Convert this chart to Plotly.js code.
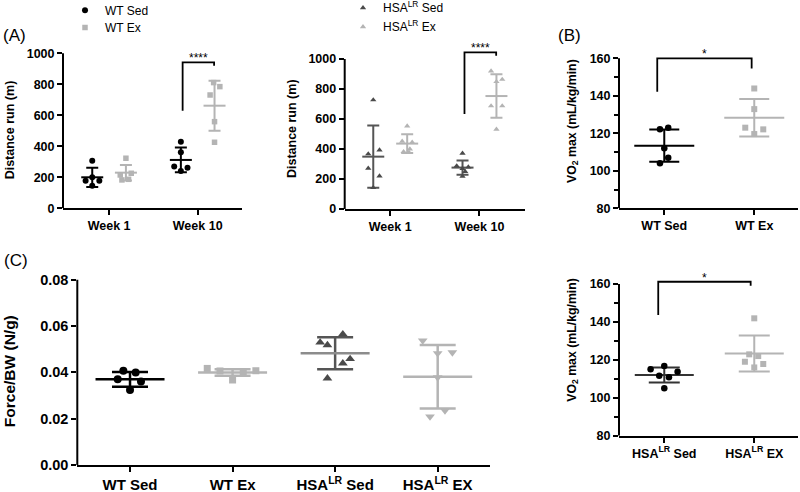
<!DOCTYPE html>
<html><head><meta charset="utf-8">
<script src="https://cdn.plot.ly/plotly-3.0.1.min.js"></script>
<style>html,body{margin:0;padding:0;background:#fff}#chart{width:800px;height:492px}</style>
</head><body><div id="chart"></div>
<script>
// ---------------- data ----------------
const WEEKS = ['Week 1', 'Week 10'];
const WT_NAMES = ['WT Sed', 'WT Ex'];
const HSA_NAMES = ['HSA<sup>LR</sup> Sed', 'HSA<sup>LR</sup> Ex'];
const FORCE_GROUPS = ['WT Sed', 'WT Ex', 'HSA<sup>LR</sup> Sed', 'HSA<sup>LR</sup> EX'];
const VO2_WT_GROUPS = ['WT Sed', 'WT Ex'];
const VO2_HSA_GROUPS = ['HSA<sup>LR</sup> Sed', 'HSA<sup>LR</sup> EX'];

// (A) left: distance run (m), WT mice, [week 1, week 10]
const DIST_WT_SED = [[307, 178, 178, 145, 200], [430, 361, 269, 262, 241]];
const DIST_WT_EX  = [[323, 226, 215, 187, 183], [811, 785, 731, 559, 426]];
const DIST_WT_SED_MEAN = [200, 312], DIST_WT_SED_SD = [62, 80];
const DIST_WT_EX_MEAN  = [230, 662], DIST_WT_EX_SD  = [50, 161];
const SIG_DIST_WT = [630, 942, 920];      // left leg end, bracket top, right leg end
// (A) right: distance run (m), HSA-LR mice
const DIST_HSA_SED = [[727, 367, 393, 271, 220, 142], [371, 287, 280, 270, 250, 218]];
const DIST_HSA_EX  = [[553, 451, 445, 400, 382, 378], [920, 864, 849, 687, 687, 531]];
const DIST_HSA_SED_MEAN = [349, 276], DIST_HSA_SED_SD = [207, 48];
const DIST_HSA_EX_MEAN  = [436, 753], DIST_HSA_EX_SD  = [62, 145];
const SIG_DIST_HSA = [633, 1044, 1022];
// (B) VO2 max, WT
const VO2_WT_SED = [122.1, 123.0, 112.0, 107.0, 104.0];
const VO2_WT_EX  = [143.9, 132.9, 123.0, 122.1, 119.6];
const VO2_WT_MEAN = [113.4, 128.3], VO2_WT_SD = [8.6, 10.0];
const SIG_VO2_WT = [142.2, 160.0, 154.6];
// (B) lower: VO2 max, HSA-LR
const VO2_HSA_SED = [116.7, 115.0, 113.7, 111.6, 110.8, 105.0];
const VO2_HSA_EX  = [141.9, 122.9, 122.0, 119.0, 117.8, 116.0];
const VO2_HSA_MEAN = [112.0, 123.4], VO2_HSA_SD = [4.0, 9.5];
const SIG_VO2_HSA = [143.6, 161.2, 159.1];
// (C) force / body weight (N/g)
const FORCE_WT_SED  = [0.0407, 0.0399, 0.0370, 0.0360, 0.0324];
const FORCE_WT_EX   = [0.0417, 0.0406, 0.0403, 0.0407, 0.0367];
const FORCE_HSA_SED = [0.0565, 0.0529, 0.0518, 0.0458, 0.0439, 0.0374];
const FORCE_HSA_EX  = [0.0537, 0.0482, 0.0486, 0.0378, 0.0235, 0.0209];
const FORCE_MEAN = [0.0370, 0.0399, 0.0482, 0.0381];
const FORCE_SD   = [0.0032, 0.0014, 0.0069, 0.0137];

// ---------------- horizontal scatter offsets (layout only) ----------------
const JIT_DIST_WT_SED = [[0, -0.075, 0.08, 0, 0], [0, 0, -0.075, 0.075, 0]];
const JIT_DIST_WT_EX  = [[0, 0.06, -0.064, 0.03, -0.045], [-0.01, 0.06, -0.05, 0, 0]];
const JIT_DIST_HSA_SED = [[0, -0.056, 0.07, -0.056, 0.07, 0], [0, -0.065, 0.065, 0, 0.03, 0]];
const JIT_DIST_HSA_EX  = [[0, -0.056, 0.056, 0.03, -0.04, 0.02], [-0.06, 0.065, 0, -0.06, 0.065, 0]];
const JIT_VO2_WT_SED = [-0.048, 0.044, 0, 0.044, -0.048];
const JIT_VO2_WT_EX  = [0, 0, -0.1, 0.1, 0];
const JIT_VO2_HSA_SED = [0, -0.152, 0.148, -0.056, 0.052, 0];
const JIT_VO2_HSA_EX  = [0, -0.056, 0.044, -0.104, 0.1, 0];
const JIT_F_WT_SED = [-0.065, 0.055, -0.12, 0.107, 0];
const JIT_F_WT_EX  = [-0.247, -0.123, 0.104, 0.227, 0];
const JIT_F_HSA_SED = [0.075, -0.146, -0.075, 0.146, 0.075, -0.075];
const JIT_F_HSA_EX  = [-0.146, 0, 0.143, 0, 0.071, -0.075];

// ---------------- styling ----------------
const W = 800, H = 492;
const FONT = 'Liberation Sans, Arial, Helvetica, sans-serif';
const BLACK = '#000000', LIGHT = '#b4b4b4', DARK = '#4a4a4a', DARKBAR = '#555555';
const GROUP_OFF = 0.19;

function pxX(a, b) { return [a / W, b / W]; }
function pxY(bottomPx, tickPx, rmin, rtick, rmax) {
  const topPx = bottomPx - (rmax - rmin) / (rtick - rmin) * (bottomPx - tickPx);
  return [1 - bottomPx / H, 1 - topPx / H];
}

function pointTrace(xa, ya, xs, ys, symbol, color, size, name, legend, showlegend) {
  return {type: 'scatter', mode: 'markers', xaxis: xa, yaxis: ya, x: xs, y: ys, name: name,
    legend: legend || 'legend', showlegend: !!showlegend, hoverinfo: 'y', cliponaxis: false,
    marker: {symbol: symbol, color: color, size: size, line: {width: 0}}};
}
function meanTrace(xa, ya, xs, means, sds, barColor, meanColor, meanLen, capHalf, lw) {
  return {type: 'scatter', mode: 'markers', xaxis: xa, yaxis: ya, x: xs, y: means,
    showlegend: false, hoverinfo: 'skip', cliponaxis: false,
    marker: {symbol: 'line-ew', size: meanLen / 1.4, color: meanColor, line: {color: meanColor, width: lw}},
    error_y: {type: 'data', array: sds, visible: true, color: barColor, thickness: lw, width: capHalf}};
}
function weekPoints(data, jit, off) {
  const xs = [], ys = [];
  data.forEach((arr, w) => arr.forEach((v, i) => { xs.push(w + 1 + off + jit[w][i]); ys.push(v); }));
  return [xs, ys];
}
function catPoints(data, jit, idx) {
  return [data.map((v, i) => idx + jit[i]), data];
}

const traces = [];
// ---- A left ----
traces.push(meanTrace('x', 'y', [1 - GROUP_OFF, 2 - GROUP_OFF], DIST_WT_SED_MEAN, DIST_WT_SED_SD, BLACK, BLACK, 22, 6, 2));
traces.push(meanTrace('x', 'y', [1 + GROUP_OFF, 2 + GROUP_OFF], DIST_WT_EX_MEAN, DIST_WT_EX_SD, LIGHT, LIGHT, 22, 6, 2));
let p = weekPoints(DIST_WT_SED, JIT_DIST_WT_SED, -GROUP_OFF);
traces.push(pointTrace('x', 'y', p[0], p[1], 'circle', BLACK, 6, WT_NAMES[0], 'legend', true));
p = weekPoints(DIST_WT_EX, JIT_DIST_WT_EX, GROUP_OFF);
traces.push(pointTrace('x', 'y', p[0], p[1], 'square', LIGHT, 5.5, WT_NAMES[1], 'legend3', true));
// ---- A right ----
traces.push(meanTrace('x2', 'y2', [1 - GROUP_OFF, 2 - GROUP_OFF], DIST_HSA_SED_MEAN, DIST_HSA_SED_SD, DARKBAR, DARKBAR, 22, 6, 2));
traces.push(meanTrace('x2', 'y2', [1 + GROUP_OFF, 2 + GROUP_OFF], DIST_HSA_EX_MEAN, DIST_HSA_EX_SD, LIGHT, LIGHT, 22, 6, 2));
p = weekPoints(DIST_HSA_SED, JIT_DIST_HSA_SED, -GROUP_OFF);
traces.push(pointTrace('x2', 'y2', p[0], p[1], 'triangle-up', DARK, 5.5, HSA_NAMES[0], 'legend2', true));
p = weekPoints(DIST_HSA_EX, JIT_DIST_HSA_EX, GROUP_OFF);
traces.push(pointTrace('x2', 'y2', p[0], p[1], 'triangle-up', LIGHT, 5.5, HSA_NAMES[1], 'legend4', true));
// ---- B ----
traces.push(meanTrace('x3', 'y3', [0], [VO2_WT_MEAN[0]], [VO2_WT_SD[0]], BLACK, BLACK, 60, 15, 2));
traces.push(meanTrace('x3', 'y3', [1], [VO2_WT_MEAN[1]], [VO2_WT_SD[1]], LIGHT, LIGHT, 60, 15, 2));
p = catPoints(VO2_WT_SED, JIT_VO2_WT_SED, 0);
traces.push(pointTrace('x3', 'y3', p[0], p[1], 'circle', BLACK, 6.5, VO2_WT_GROUPS[0]));
p = catPoints(VO2_WT_EX, JIT_VO2_WT_EX, 1);
traces.push(pointTrace('x3', 'y3', p[0], p[1], 'square', LIGHT, 6, VO2_WT_GROUPS[1]));
// ---- C ----
const fBar = [BLACK, LIGHT, DARKBAR, LIGHT];
const fMean = [BLACK, LIGHT, '#8c8c8c', LIGHT];
for (let g = 0; g < 4; g++) {
  traces.push(meanTrace('x4', 'y4', [g], [FORCE_MEAN[g]], [FORCE_SD[g]], fBar[g], fMean[g], 69, 18, 2.5));
}
p = catPoints(FORCE_WT_SED, JIT_F_WT_SED, 0);
traces.push(pointTrace('x4', 'y4', p[0], p[1], 'circle', BLACK, 8, FORCE_GROUPS[0]));
p = catPoints(FORCE_WT_EX, JIT_F_WT_EX, 1);
traces.push(pointTrace('x4', 'y4', p[0], p[1], 'square', LIGHT, 7, FORCE_GROUPS[1]));
p = catPoints(FORCE_HSA_SED, JIT_F_HSA_SED, 2);
traces.push(pointTrace('x4', 'y4', p[0], p[1], 'triangle-up', DARK, 8.5, FORCE_GROUPS[2]));
p = catPoints(FORCE_HSA_EX, JIT_F_HSA_EX, 3);
traces.push(pointTrace('x4', 'y4', p[0], p[1], 'triangle-down', LIGHT, 8.5, FORCE_GROUPS[3]));
// ---- D ----
traces.push(meanTrace('x5', 'y5', [0], [VO2_HSA_MEAN[0]], [VO2_HSA_SD[0]], '#333333', '#333333', 59, 15.5, 2));
traces.push(meanTrace('x5', 'y5', [1], [VO2_HSA_MEAN[1]], [VO2_HSA_SD[1]], LIGHT, LIGHT, 59, 15.5, 2));
p = catPoints(VO2_HSA_SED, JIT_VO2_HSA_SED, 0);
traces.push(pointTrace('x5', 'y5', p[0], p[1], 'circle', BLACK, 6.5, VO2_HSA_GROUPS[0]));
p = catPoints(VO2_HSA_EX, JIT_VO2_HSA_EX, 1);
traces.push(pointTrace('x5', 'y5', p[0], p[1], 'square', LIGHT, 6, VO2_HSA_GROUPS[1]));

// ---------------- axes ----------------
function xAxis(domain, range, vals, text, anchor, size) {
  return {domain: domain, range: range, anchor: anchor, tickmode: 'array', tickvals: vals, ticktext: text,
    showline: true, linewidth: 2, linecolor: BLACK, ticks: 'outside', ticklen: 5, tickwidth: 2, tickcolor: BLACK,
    showgrid: false, zeroline: false, fixedrange: true, automargin: false,
    tickfont: {family: FONT, size: size, color: BLACK, weight: 'bold'}};
}
function yAxis(domain, range, vals, anchor, title, size, titleSize, standoff, minorVals, fmt) {
  const ax = {domain: domain, range: range, anchor: anchor, tickmode: 'array', tickvals: vals,
    showline: false, ticks: 'outside', ticklen: 5, tickwidth: 2, tickcolor: BLACK,
    showgrid: false, zeroline: false, fixedrange: true, automargin: false,
    tickfont: {family: FONT, size: size, color: BLACK, weight: 'bold'},
    title: {text: title, standoff: standoff, font: {family: FONT, size: titleSize, color: BLACK, weight: 'bold'}}};
  if (fmt) ax.tickformat = fmt;
  if (minorVals) ax.minor = {tickmode: 'array', tickvals: minorVals, ticks: 'outside', ticklen: 4, tickwidth: 2, tickcolor: BLACK, showgrid: false};
  return ax;
}

const DIST_TICKS = [0, 200, 400, 600, 800, 1000];
const VO2_TICKS = [80, 100, 120, 140, 160];
const VO2_MINOR = [90, 110, 130, 150];
const FORCE_TICKS = [0, 0.02, 0.04, 0.06, 0.08];

// axis ranges (upper ends leave room for brackets / place the axis titles)
const RA = [0, 1010], RA2 = [0, 1070], RB = [80, 173], RC = [0, 0.081], RD = [80, 181];

function legendAt(xPx, centerPx) {
  return {x: xPx / W, xanchor: 'left', y: 1 - (centerPx - 16) / H, yanchor: 'top', bgcolor: 'rgba(0,0,0,0)',
    borderwidth: 0, font: {family: FONT, size: 12, color: BLACK}};
}

const layout = {
  width: W, height: H, margin: {l: 0, r: 0, t: 0, b: 0, autoexpand: false},
  paper_bgcolor: '#ffffff', plot_bgcolor: 'rgba(0,0,0,0)',
  font: {family: FONT, color: BLACK},
  xaxis:  xAxis(pxX(63, 242), [0.48, 2.5], [1, 2], WEEKS, 'y', 12.5),
  yaxis:  yAxis(pxY(208.3, 53.3, 0, 1000, RA[1]), RA, DIST_TICKS, 'x', 'Distance run (m)', 12.5, 12.5, 9),
  xaxis2: xAxis(pxX(344.7, 525), [0.49, 2.51], [1, 2], WEEKS, 'y2', 12.5),
  yaxis2: yAxis(pxY(209, 59, 0, 1000, RA2[1]), RA2, DIST_TICKS, 'x2', 'Distance run (m)', 12.5, 12.5, 9),
  xaxis3: xAxis(pxX(619, 798), [-0.503, 1.486], [0, 1], VO2_WT_GROUPS, 'y3', 12.5),
  yaxis3: yAxis(pxY(208.3, 58.3, 80, 160, RB[1]), RB, VO2_TICKS, 'x3', 'VO<sub>2</sub> max (mL/kg/min)', 12.5, 12.3, 10, VO2_MINOR),
  xaxis4: xAxis(pxX(77.3, 490), [-0.514, 3.51], [0, 1, 2, 3], FORCE_GROUPS, 'y4', 15),
  yaxis4: yAxis(pxY(465, 279.7, 0, 0.08, RC[1]), RC, FORCE_TICKS, 'x4', 'Force/BW (N/g)', 14.5, 15.5, 20, null, '.2f'),
  xaxis5: xAxis(pxX(619, 798), [-0.503, 1.486], [0, 1], VO2_HSA_GROUPS, 'y5', 12.5),
  yaxis5: yAxis(pxY(435.7, 284, 80, 160, RD[1]), RD, VO2_TICKS, 'x5', 'VO<sub>2</sub> max (mL/kg/min)', 12.5, 12.3, 10, VO2_MINOR),
  legend:  legendAt(65, 11.7),
  legend3: legendAt(65, 29),
  legend2: legendAt(343, 9.3),
  legend4: legendAt(343, 28.3),
  shapes: [], annotations: []
};

// y-axis lines (from axis minimum up to the top tick only)
[['x', 'y', 0, 1000], ['x2', 'y2', 0, 1000], ['x3', 'y3', 80, 160], ['x4', 'y4', 0, 0.08], ['x5', 'y5', 80, 160]].forEach(a => {
  layout.shapes.push({type: 'line', xref: a[0] + ' domain', yref: a[1], x0: 0, x1: 0, y0: a[2], y1: a[3],
    line: {color: BLACK, width: 2}, layer: 'above'});
});

// significance brackets
function bracket(xa, ya, xl, xr, sig, label) {
  layout.shapes.push({type: 'path', xref: xa, yref: ya,
    path: 'M' + xl + ',' + sig[0] + ' L' + xl + ',' + sig[1] + ' L' + xr + ',' + sig[1] + ' L' + xr + ',' + sig[2],
    line: {color: BLACK, width: 1.8}, layer: 'above'});
  layout.annotations.push({xref: xa, yref: ya, x: (xl + xr) / 2, y: sig[1], text: label, showarrow: false,
    yanchor: 'bottom', yshift: -5, font: {family: FONT, size: 12, color: BLACK}});
}
bracket('x', 'y', 2 - 0.17, 2 + 0.185, SIG_DIST_WT, '****');
bracket('x2', 'y2', 2 - 0.168, 2 + 0.187, SIG_DIST_HSA, '****');
bracket('x3', 'y3', -0.078, 1 - 0.029, SIG_VO2_WT, '*');
bracket('x5', 'y5', -0.067, 1 - 0.04, SIG_VO2_HSA, '*');

// panel letters
[['(A)', 1, 35], ['(B)', 556, 35], ['(C)', 2, 260]].forEach(l => {
  layout.annotations.push({xref: 'paper', yref: 'paper', x: l[1] / W, y: 1 - l[2] / H, xanchor: 'left', yanchor: 'middle',
    text: l[0], showarrow: false, font: {family: FONT, size: 17, color: BLACK}});
});

Plotly.newPlot('chart', traces, layout, {displayModeBar: false, staticPlot: true});
</script>
</body></html>
